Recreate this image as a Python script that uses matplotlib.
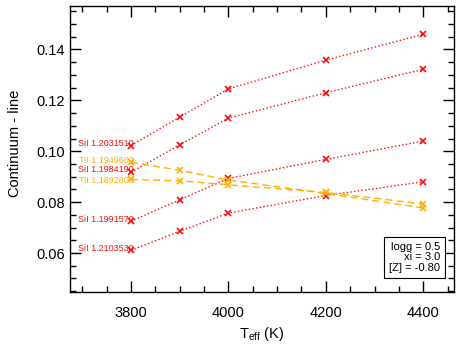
import numpy as np
import matplotlib
matplotlib.use("Agg")
import matplotlib.pyplot as plt
from matplotlib.ticker import MultipleLocator

plt.rcParams['font.family'] = ['Liberation Sans', 'DejaVu Sans']
plt.rcParams['mathtext.fontset'] = 'custom'
plt.rcParams['mathtext.rm'] = 'Liberation Sans'

teff = [3800, 3900, 4000, 4200, 4400]

si_labels = ["SiI 1.2031510", "SiI 1.1984190", "SiI 1.1991570", "SiI 1.2103530"]
si_vals = [
    [0.1022, 0.1134, 0.1245, 0.1358, 0.1460],
    [0.0917, 0.1025, 0.1130, 0.1230, 0.1322],
    [0.0725, 0.0809, 0.0893, 0.0968, 0.1040],
    [0.0610, 0.0685, 0.0757, 0.0826, 0.0880],
]

ti_labels = ["TiI 1.1949600", "TiI 1.1892800"]
ti_vals = [
    [0.0957, 0.0925, 0.0887, 0.0834, 0.0777],
    [0.0889, 0.0884, 0.0868, 0.0838, 0.0793],
]

red = "#ff0a0a"
gold = "#ffb000"

fig = plt.figure(figsize=(4.63, 3.48), dpi=100)
ax = fig.add_axes([0.1512, 0.1618, 0.8283, 0.8218])

# small vertical nudges (points) so the crowded labels don't collide
si_nudge = [1.5, 2.0, 1.5, 1.5]
ti_nudge = [1.5, -0.5]

for lab, v, dy in zip(si_labels, si_vals, si_nudge):
    ax.plot(teff, v, color=red, linestyle=":", linewidth=1.0,
            marker="x", markersize=4.5, markeredgewidth=1.2)
    ax.annotate(lab, (teff[0], v[0]), xytext=(2, dy), textcoords="offset points",
                color=red, fontsize=6.5, ha="right", va="center")

for lab, v, dy in zip(ti_labels, ti_vals, ti_nudge):
    ax.plot(teff, v, color=gold, linestyle=(0, (5, 3)), linewidth=1.0,
            marker="x", markersize=4.5, markeredgewidth=1.2)
    ax.annotate(lab, (teff[0], v[0]), xytext=(2, dy), textcoords="offset points",
                color=gold, fontsize=6.5, ha="right", va="center")

ax.text(0.965, 0.065, "logg = 0.5\nxi = 3.0\n[Z] = -0.80", transform=ax.transAxes,
        ha="right", va="bottom", fontsize=8, multialignment="right",
        linespacing=1.1,
        bbox=dict(facecolor="white", edgecolor="black", linewidth=0.8,
                  boxstyle="square,pad=0.45"))

ax.set_xlim(3675, 4462)
ax.set_ylim(0.0448, 0.1572)
ax.set_xticks([3800, 4000, 4200, 4400])
ax.set_yticks([0.06, 0.08, 0.10, 0.12, 0.14])
ax.xaxis.set_minor_locator(MultipleLocator(50))
ax.yaxis.set_minor_locator(MultipleLocator(0.005))
ax.tick_params(which="both", direction="in", top=True, right=True, labelsize=10.5)
ax.tick_params(which="major", length=8, width=1)
ax.tick_params(which="minor", length=4, width=1)
ax.tick_params(axis="x", pad=10)
for s in ax.spines.values():
    s.set_linewidth(1)

ax.set_xlabel(r"T$_{\rm eff}$ (K)", fontsize=10.5)
ax.set_ylabel("Continuum - line", fontsize=10.5)
ax.yaxis.set_label_coords(-0.125, 0.52)

fig.savefig("out.png", dpi=100)
